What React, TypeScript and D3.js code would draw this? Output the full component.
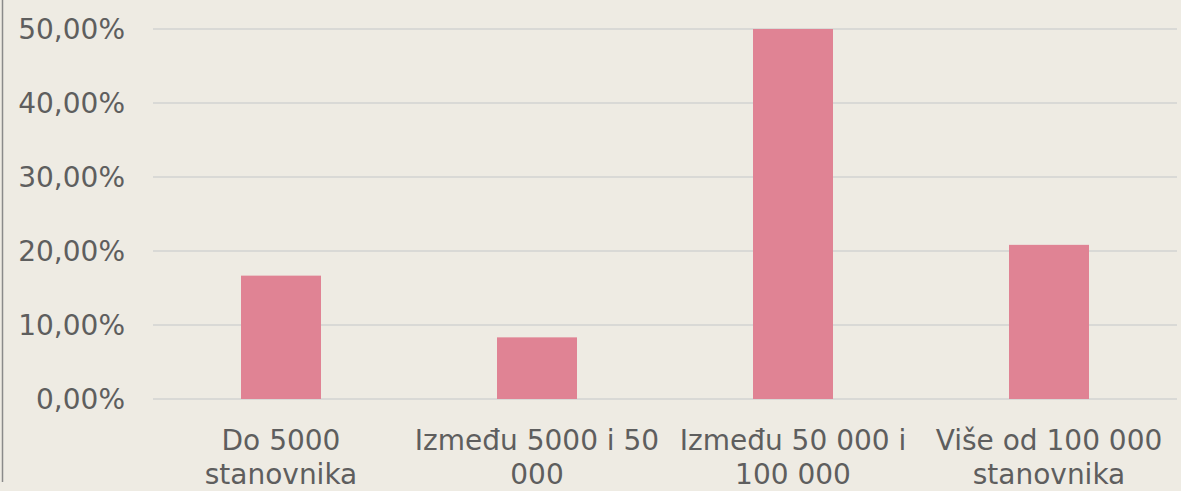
import React, { useEffect, useRef } from "react";
import * as d3 from "d3";

const categories = [
  ["Do 5000", "stanovnika"],
  ["Između 5000 i 50", "000"],
  ["Između 50 000 i", "100 000"],
  ["Više od 100 000", "stanovnika"],
];
const values = [16.67, 8.33, 50.0, 20.83];
const yTicks = [0, 10, 20, 30, 40, 50];

const W = 1181;
const H = 491;

const App = () => {
  const ref = useRef<SVGSVGElement>(null);

  useEffect(() => {
    const svg = d3.select(ref.current);
    svg.selectAll("*").remove();

    const left = 153;
    const right = 1177;
    const x = d3
      .scaleBand<number>()
      .domain(d3.range(categories.length))
      .range([left, right])
      .paddingInner(0.6875)
      .paddingOuter(0.34375);
    const y = d3.scaleLinear().domain([0, 50]).range([399, 29]);

    svg.append("rect").attr("width", W).attr("height", H).attr("fill", "#eeebe3");

    // left border line
    svg
      .append("line")
      .attr("x1", 2.5)
      .attr("x2", 2.5)
      .attr("y1", 0)
      .attr("y2", 482)
      .attr("stroke", "#8a8a8a")
      .attr("stroke-width", 1.5);

    svg
      .append("g")
      .selectAll("line")
      .data(yTicks)
      .join("line")
      .attr("x1", left)
      .attr("x2", right)
      .attr("y1", (d) => y(d))
      .attr("y2", (d) => y(d))
      .attr("stroke", "#d9d9d6")
      .attr("stroke-width", 2);

    svg
      .append("g")
      .selectAll("text")
      .data(yTicks)
      .join("text")
      .attr("x", 125)
      .attr("y", (d) => y(d))
      .attr("dy", "0.36em")
      .attr("text-anchor", "end")
      .attr("font-family", "DejaVu Sans")
      .attr("font-size", 28)
      .attr("fill", "#5e5e5e")
      .text((d) => d.toFixed(2).replace(".", ",") + "%");

    svg
      .append("g")
      .selectAll("rect")
      .data(values)
      .join("rect")
      .attr("x", (_, i) => x(i)!)
      .attr("width", x.bandwidth())
      .attr("y", (d) => y(d))
      .attr("height", (d) => y(0) - y(d))
      .attr("fill", "#e08394");

    const labels = svg
      .append("g")
      .selectAll("text")
      .data(categories)
      .join("text")
      .attr("text-anchor", "middle")
      .attr("font-family", "DejaVu Sans")
      .attr("font-size", 28)
      .attr("fill", "#5e5e5e");
    labels
      .selectAll("tspan")
      .data((d, i) => d.map((t) => ({ t, i })))
      .join("tspan")
      .attr("x", (d) => x(d.i)! + x.bandwidth() / 2)
      .attr("y", (_, j) => 450 + j * 34)
      .text((d) => d.t);
  }, []);

  return (
    <div style={{ position: "fixed", left: 0, top: 0 }}>
      <svg ref={ref} width={W} height={H} style={{ display: "block" }}></svg>
    </div>
  );
};

export default App;
